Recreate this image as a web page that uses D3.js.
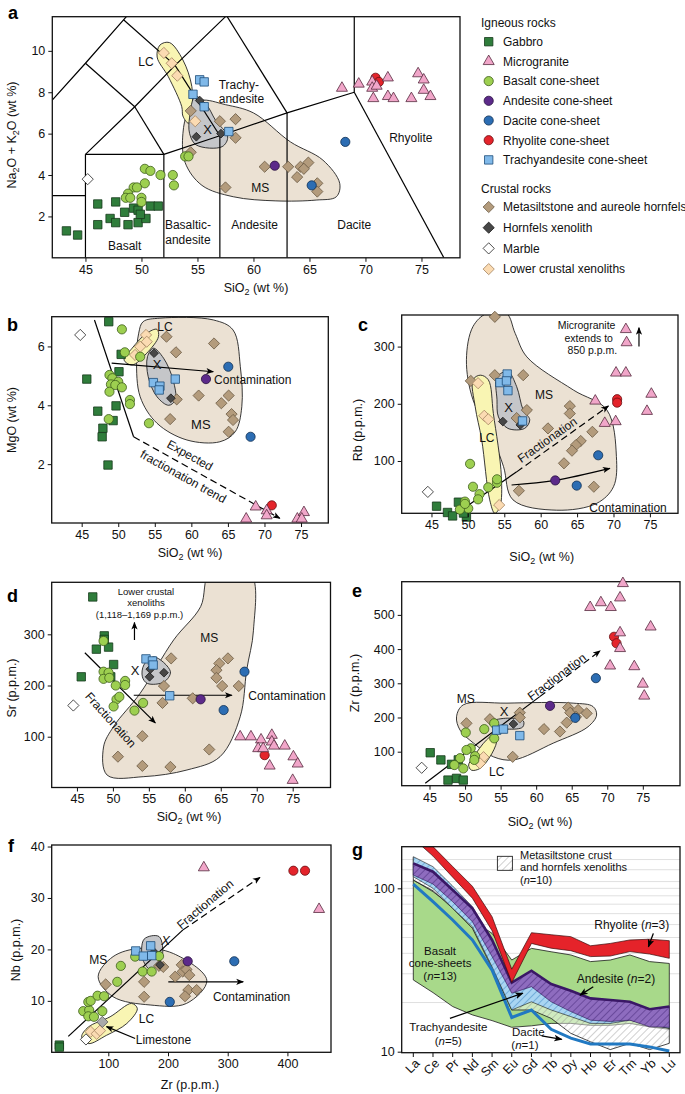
<!DOCTYPE html>
<html><head><meta charset="utf-8">
<script src="https://cdn.jsdelivr.net/npm/d3@7"></script>
<style>body{margin:0;background:#fff}svg{display:block}</style>
</head><body><svg id="c" width="685" height="1094"></svg>
<script>
// ================= DATA =================
// Panel a (TAS): [SiO2, Na2O+K2O]
const gabbroA=[[43.3,1.3],[44.3,1.1],[46.1,2.6],[46.1,1.6],[47.2,1.9],[47.7,2.7],[47.7,1.7],[48.8,1.6],[48.5,2.2],[49.3,2.4],[49.7,2.3],[49.7,1.7],[50.4,1.9],[50.8,2.5],[51.5,2.5],[49.9,2.1]];
const basaltA=[[50.3,4.3],[50.8,4.2],[51.7,4.0],[52.8,4.0],[52.9,3.5],[50.3,3.6],[49.3,3.4],[49.6,3.4],[48.8,3.1],[48.6,2.9],[49.0,2.9],[50.0,2.9],[50.0,2.7],[53.9,4.9],[54.2,4.9]];
const microA=[[67.9,8.2],[69.4,8.4],[70.6,8.5],[70.6,8.2],[70.7,7.7],[72.0,8.7],[72.0,7.8],[72.5,7.7],[74.1,7.7],[74.7,8.9],[75.2,8.6],[75.2,8.1],[75.8,7.8],[71.0,8.3]];
const rhyoliteA=[[70.9,8.7],[71.2,8.5]];
const daciteA=[[68.2,5.6],[65.2,3.5]];
const andesiteA=[[61.9,4.45]];
const trachyA=[[55.2,8.6],[55.6,8.5],[54.6,7.9],[55.6,7.3],[57.8,6.1]];
const hornfelsA=[[55.2,7.6],[54.9,5.85],[57.1,6.0]];
const metaA=[[54.4,7.1],[57.0,6.6],[58.4,6.7],[58.4,5.8],[54.4,5.1],[57.5,3.4],[61.0,4.4],[63.1,4.4],[63.9,3.9],[64.2,4.4],[64.9,4.6],[64.5,4.3],[65.7,3.6],[65.7,3.2]];
const marbleA=[[45.2,3.8]];
const lowerA=[[52.0,9.9],[52.7,9.4],[53.2,8.8],[54.8,6.6]];
const msA=[[55.3,7.6],[57.5,7.4],[60,7.0],[63.3,5.6],[66.2,4.72],[67.7,3.6],[67.4,2.95],[65.6,2.79],[62,2.75],[58.2,2.95],[55.4,3.5],[53.9,4.6],[53.7,6.0],[54.2,7.1]];
const lcA=[[51.65,10.28],[52.5,10.4],[53.7,9.56],[54.5,8.27],[54.5,7.14],[54.2,6.5],[53.7,6.85],[53.6,7.3],[52.4,8.75],[51.4,9.7]];
const xA=[[54.8,7.8],[55.8,7.4],[56.6,6.66],[57.7,5.84],[57.2,5.37],[54.9,5.45],[54.3,6.0],[54.3,6.8]];
const tasLines=[
 [[41,7],[45,9.4],[48.4,11.5],[52.5,14]],[[41,3],[45,3]],[[45,0],[45,5]],[[45,5],[52,5]],[[52,0],[52,5]],
 [[57,0],[57,5.9]],[[63,0],[63,7]],[[52,5],[57,5.9],[63,7],[69,8]],[[69,8],[77,0]],[[69,8],[69,13]],
 [[45,5],[49.4,7.3],[53,9.3],[57.6,11.7],[61,13.5]],[[49.4,7.3],[52,5]],[[53,9.3],[57,5.9]],[[57.6,11.7],[63,7]],
 [[45,9.4],[49.4,7.3]],[[48.4,11.5],[53,9.3]],[[52.5,14],[57.6,11.7]]];

// Panel b: [SiO2, MgO]
const gabbroB=[[48.7,6.84],[45.7,4.89],[50.4,5.73],[50.1,5.14],[47.2,3.8],[49.7,3.98],[47.9,3.22],[47.8,2.93],[49.3,3.48],[48.6,1.97]];
const basaltB=[[50.5,6.58],[50.9,5.8],[53.0,5.65],[48.8,5.03],[49.2,4.92],[50.0,4.8],[49.0,4.71],[49.6,4.69],[50.5,4.61],[48.8,4.46],[51.6,4.18],[51.6,4.04],[48.7,3.53],[54.2,3.39]];
const trachyB=[[54.8,4.77],[55.7,4.65],[55.6,4.52],[57.8,4.89]];
const hornfelsB=[[54.9,5.77],[57.2,4.24]];
const lowerB=[[53.8,6.39],[53.9,6.16],[53.0,5.99],[52.3,5.71]];
const metaB=[[56.6,6.33],[57.9,5.8],[63.1,6.1],[58.0,4.2],[61.0,4.33],[65.1,4.33],[64.1,4.07],[65.5,3.7],[65.7,3.5],[65.1,3.1],[57.1,3.53]];
const marbleB=[[44.8,6.39]];
const andesiteB=[[62.0,4.89]];
const daciteB=[[65.05,5.31],[68.1,2.93]];
const rhyoliteB=[[71.0,0.6]];
const microB=[[68.8,0.55],[67.5,0.14],[70.3,0.42],[70.3,0.25],[74.5,0.14],[75.4,0.36],[75.1,0.14]];
const msB=[[53.4,6.84],[55.7,6.96],[63.0,6.9],[65.7,6.56],[66.7,5.31],[66.9,3.95],[66.0,3.1],[63.9,2.76],[59.4,2.82],[55.3,3.39],[53.0,4.29],[52.5,5.54],[52.8,6.45]];
const lcB=[[50.8,5.54],[51.9,5.94],[53.9,6.45],[55.3,6.58],[55.5,6.33],[53.9,5.77],[51.9,5.37]];
const xB=[[54.8,5.94],[56.2,5.6],[57.5,4.86],[57.8,4.18],[56.9,4.0],[55.3,4.29],[54.1,4.97],[54.0,5.65]];

// Panel c: [SiO2, Rb]
const gabbroC=[[45.7,21],[47.2,10],[47.9,4],[48.7,28],[49.8,2],[49.4,9]];
const basaltC=[[50.3,95],[49.6,29],[50.7,55],[51.6,42],[51.4,33],[52.8,54],[54.0,62],[50.05,17],[48.9,15],[49.6,25],[54.0,68]];
const lowerC=[[51.4,236],[52.25,179],[52.8,173],[54.3,23]];
const trachyC=[[54.4,237],[55.4,252],[55.3,240],[55.5,223],[57.5,170]];
const hornfelsC=[[54.8,169],[57.2,163]];
const metaC=[[50.4,240],[53.7,352],[53.7,250],[57.6,250],[56.7,175],[58.1,189],[61.0,157],[64.0,196],[64.0,183],[65.5,135],[64.85,128],[64.3,118],[63.2,96],[67.1,151],[67.3,55],[57.0,48]];
const marbleC=[[44.5,46]];
const andesiteC=[[62.0,66]];
const daciteC=[[67.9,110],[64.95,57]];
const rhyoliteC=[[70.5,208],[70.5,202]];
const microC=[[71.7,330],[71.8,307],[70.35,254],[71.7,254],[67.5,205],[68.8,166],[70.3,169],[75.2,217],[74.6,187]];
const msC=[[52.6,358],[55.3,358],[56.5,323],[58.1,282],[64.5,224],[69.1,189],[70.4,108],[70.0,55],[67.7,26],[62.2,14],[56.2,32],[54.9,90],[53.5,137],[50.7,207],[49.8,277],[50.7,335]];
const lcC=[[50.7,242],[51.7,250],[52.8,242],[53.5,183],[54.6,73],[54.4,20],[53.7,8.5],[53.0,32],[51.9,137],[51.0,195]];
const xC=[[54.0,247],[55.5,256],[56.7,230],[57.6,189],[58.5,172],[57.8,157],[55.5,157],[54.2,177],[54.0,207]];

// Panel d: [SiO2, Sr]
const gabbroD=[[47.2,373],[48.8,297],[47.7,271],[49.4,275],[50.1,241],[45.6,217],[49.7,217],[48.8,290]];
const basaltD=[[48.7,287],[48.7,227],[49.4,225],[48.7,213],[49.5,215],[50.4,200],[51.7,209],[51.7,201],[50.5,173],[50.9,178],[50.1,159],[53.0,151],[54.2,166]];
const trachyD=[[54.6,252],[55.5,248],[55.6,240],[57.9,180]];
const hornfelsD=[[55.1,217],[57.1,225],[55.2,232]];
const metaD=[[58.1,253],[57.1,199],[56.9,166],[61.1,175],[66.0,253],[64.8,243],[64.4,230],[64.4,215],[65.2,199],[67.5,199],[54.1,101],[50.7,61],[54.1,43],[58.0,41],[63.4,75]];
const marbleD=[[44.5,161]];
const andesiteD=[[62.2,173]];
const daciteD=[[68.3,227],[65.4,152]];
const rhyoliteD=[[71.1,64]];
const microD=[[67.7,100],[69.2,100],[70.6,94],[72.1,103],[72.1,90],[72.4,82],[70.2,77],[70.9,77],[73.9,82],[75.1,61],[75.7,47],[71.8,43],[75.0,15]];
const msD=[[63.5,420],[69.1,420],[69.55,308],[68.6,230],[67.7,139],[64.9,61],[60.3,35],[54.3,22],[49.2,25],[48.7,80],[50.1,120],[53.8,185],[58.45,289],[62.2,354]];
const xD=[[54.3,240],[55.7,256],[58.0,227],[57.1,207],[54.8,204],[54.1,217]];

// Panel e: [SiO2, Zr]
const gabbroE=[[45.1,97],[46.6,76],[48.1,63],[48.8,22],[47.6,17],[49.75,17],[49.05,76]];
const basaltE=[[50.1,156],[50.8,110],[50.2,105],[49.3,81],[48.5,61],[49.75,51],[51.4,87],[51.3,76],[52.7,166],[54.1,183],[54.1,139]];
const trachyE=[[54.45,163],[55.4,166],[57.7,147]];
const hornfelsE=[[56.8,181]];
const metaE=[[50.2,183],[53.5,195],[57.7,214],[57.7,200],[56.7,85],[61.1,166],[63.35,159],[64.3,185],[64.5,229],[64.8,214],[65.9,222],[67.1,212],[65.6,202]];
const lowerE=[[51.6,76],[52.6,84],[52.1,66]];
const marbleE=[[43.9,53]];
const andesiteE=[[61.95,234]];
const daciteE=[[65.5,199],[68.4,315]];
const rhyoliteE=[[70.95,436],[71.3,417]];
const microE=[[72.2,592],[67.6,522],[69.1,536],[70.5,522],[71.8,550],[76.1,465],[71.8,448],[71.8,402],[70.4,351],[73.8,349],[75.0,298],[75.2,263]];
const msE=[[48.8,202],[49.75,237],[55.9,242],[65.2,242],[68.0,232],[68.5,207],[67.3,173],[62.4,125],[56.8,76],[54.0,85],[51.2,125],[49.3,163]];
const lcE=[[50.5,61],[51.2,85],[53.0,134],[54.35,154],[54.45,129],[53.5,85],[52.1,51],[50.9,46]];
const xE=[[53.8,188],[56,198],[58.2,190],[58.1,172],[56,166],[53.9,175]];

// Panel f: [Zr, Nb]
const gabbroF=[[18,1.4],[18,1.0]];
const basaltF=[[58,8],[68,8.2],[66.5,9.8],[70.5,10],[82,11],[93,10.9],[90,8],[66.5,7],[76,6.9],[115,13.7],[121,16.8],[145,18.6],[157.5,15.7],[172.7,15.7],[185,18.7]];
const trachyF=[[146,19.7],[158.6,18.7],[172.7,18.8],[171,20.7]];
const hornfelsF=[[176.5,19.5],[186.6,17]];
const metaF=[[95.6,13.2],[160,13.7],[160,10.8],[185,16.8],[192,16.6],[212,14.7],[223,17],[224.6,15.7],[231,16.1],[235.7,15],[234,12.1],[248,12.1],[228.5,10.9]];
const marbleF=[[62.6,2.5]];
const limestoneF=[[90,5.9]];
const lowerF=[[70.5,4],[80.5,3.6],[86,4.2]];
const andesiteF=[[233,17.7]];
const daciteF=[[311,17.7],[203,9.8]];
const rhyoliteF=[[410,35.3],[429.5,35.3]];
const microF=[[260,35.9],[453,27.8]];
const msF=[[83,14.7],[108,18.6],[153,20.2],[209,19.2],[265,14],[231,9.5],[170,9.2],[108,10.8]];
const xF=[[160,22],[185,22.5],[190,18.5],[172,16],[158,18]];
const lcF=[[55.4,3],[66.5,4.9],[103,6.9],[139,9.5],[148.6,8.5],[131,5.6],[97,3.3],[66.5,1.7]];

// Panel g: REE patterns (chondrite-normalised)
const ree=["La","Ce","Pr","Nd","Sm","Eu","Gd","Tb","Dy","Ho","Er","Tm","Yb","Lu"];
const rhyoliteTop=[238,180,136,103,67,32,53.5,52,50.6,44.5,46,48.3,48.8,47.8];
const rhyoliteBot=[202,157.5,117,87,55,26.5,46,43,41.5,38.2,38.5,41,39.6,37.3];
const basaltTop=[112.4,95.4,77.2,64.0,53.0,36.4,42.9,40.9,39.1,35.6,36.4,39.1,35.6,34.7];
const basaltBot=[27.5,23.0,18.9,16.8,15.5,14.1,14.4,14.9,14.9,14.5,14.5,14.9,14.2,13.7];
const metaTop=[154.7,130.6,98.6,73.6,46.0,22.8,25.6,21.7,18.0,16.0,15.8,16.2,14.9,13.9];
const metaBot=[112.4,96.7,75.4,56.9,32.4,18.0,18.0,16.0,12.95,11.5,10.3,11.25,10.3,11.25];
const trachyTop=[156.2,135.7,103.3,77.2,48.3,25.6,28.8,23.9,20.7,18.0,18.0,18.0,16.4,15.6];
const trachyBot=[117.8,100,75.4,58.2,33.1,18.0,20.2,18.0,16.4,14.9,14.9,15.6,14.55,13.9];
const andesiteTop=[142.2,126.4,97.6,75.4,48.3,26.5,31.3,25.95,23.6,21.2,20.7,20.2,18.2,18.9];
const andesiteBot=[120.6,106.2,82.8,62.5,38.2,22.8,25.0,20.2,17.6,15.6,15.3,15.6,14.2,14.1];
const daciteREE=[106.2,82.8,64.0,48.3,31.6,16.2,18.0,13.7,12.1,11.15,11.15,11.15,10.7,10.1];

// tick labels
const sioTicks=[45,50,55,60,65,70,75];

// ================= DRAWING =================
const FONT='"Liberation Sans", Arial, Helvetica, sans-serif';
const svg=d3.select('#c').attr('font-family',FONT);
const defs=svg.append('defs');
defs.append('marker').attr('id','arr').attr('viewBox','0 0 10 10').attr('refX',9).attr('refY',5)
 .attr('markerWidth',6.5).attr('markerHeight',6.5).attr('orient','auto').attr('markerUnits','strokeWidth')
 .append('path').attr('d','M0,1L10,5L0,9L2.5,5Z').attr('fill','#000');
function pattern(id,bg,lc,lw){
  const p=defs.append('pattern').attr('id',id).attr('width',5).attr('height',5).attr('patternUnits','userSpaceOnUse').attr('patternTransform','rotate(45)');
  if(bg) p.append('rect').attr('width',5).attr('height',5).attr('fill',bg);
  p.append('line').attr('x1',0).attr('y1',0).attr('x2',0).attr('y2',5).attr('stroke',lc).attr('stroke-width',lw);
}
pattern('hGray',null,'#8a8a8a',0.8);
pattern('hBlue','#a9d5f2','#3d86c2',1.0);
pattern('hPurp','#8e6cbf','#563789',1.3);
pattern('hLeg','#ffffff','#8a8a8a',0.8);

const TYPES={
 gabbro:{shape:'square',fill:'#2f7d3b',stroke:'#163a1c'},
 micro:{shape:'triangle',fill:'#f1a6c9',stroke:'#55293d'},
 basalt:{shape:'circle',fill:'#9dcf50',stroke:'#3e5d1c'},
 andesite:{shape:'circle',fill:'#5c2a8a',stroke:'#28103f'},
 dacite:{shape:'circle',fill:'#2c6db3',stroke:'#0f2e52'},
 rhyolite:{shape:'circle',fill:'#e4242b',stroke:'#6a0e11'},
 trachy:{shape:'square',fill:'#80b9e9',stroke:'#1d4d78'},
 meta:{shape:'diamond',fill:'#b39b7c',stroke:'#6a5942'},
 hornfels:{shape:'diamond',fill:'#474747',stroke:'#1c1c1c',scale:0.78},
 marble:{shape:'diamond',fill:'#ffffff',stroke:'#222'},
 lower:{shape:'diamond',fill:'#fbdbb2',stroke:'#a3835f'},
 limestone:{shape:'diamond',fill:'#aaaaaa',stroke:'#555'}
};
function symPath(shape,k){const s=k||1;
 if(shape==='square'){const h=4.2*s;return `M${-h},${-h}H${h}V${h}H${-h}Z`;}
 if(shape==='diamond'){const d=5.6*s;return `M0,${-d}L${d},0L0,${d}L${-d},0Z`;}
 if(shape==='triangle'){const t=11*s,hh=t*Math.sqrt(3)/2;return `M0,${-hh*2/3}L${t/2},${hh/3}L${-t/2},${hh/3}Z`;}
 const r=4.6*s;return `M${r},0A${r},${r} 0 1,1 ${-r},0A${r},${r} 0 1,1 ${r},0Z`;
}
function makePanel(o){
  const g=svg.append('g');
  const x=d3.scaleLinear().domain(o.xd).range([o.L,o.R]);
  const y=(o.yLog?d3.scaleLog():d3.scaleLinear()).domain(o.yd).range([o.B,o.T]);
  const cid='clip-'+o.name;
  defs.append('clipPath').attr('id',cid).append('rect').attr('x',o.L).attr('y',o.T).attr('width',o.R-o.L).attr('height',o.B-o.T);
  const fields=g.append('g').attr('clip-path',`url(#${cid})`);
  const lines=g.append('g').attr('clip-path',`url(#${cid})`);
  g.append('rect').attr('x',o.L).attr('y',o.T).attr('width',o.R-o.L).attr('height',o.B-o.T).attr('fill','none').attr('stroke','#111').attr('stroke-width',1.3);
  const pts=g.append('g');
  const text=g.append('g');
  if(o.xt){const xa=g.append('g').attr('transform',`translate(0,${o.B})`).call(d3.axisBottom(x).tickValues(o.xt).tickSize(4).tickPadding(3).tickFormat(d=>d));xa.select('.domain').remove();}
  if(o.yt){const ya=g.append('g').attr('transform',`translate(${o.L},0)`).call(d3.axisLeft(y).tickValues(o.yt).tickSize(4).tickPadding(3).tickFormat(d=>d));ya.select('.domain').remove();}
  g.selectAll('.tick text').attr('font-size',12.5).attr('font-family',FONT).attr('fill','#111');
  g.selectAll('.tick line').attr('stroke','#111').attr('stroke-width',1);
  text.append('text').attr('x',o.lx).attr('y',o.ly).attr('font-size',18).attr('font-weight','bold').attr('fill','#000').text(o.name);
  return {g,x,y,fields,lines,pts,text,o};
}
function field(P,d,fill){
  P.fields.append('path').datum(d).attr('d',d3.line().x(v=>P.x(v[0])).y(v=>P.y(v[1])).curve(d3.curveCatmullRomClosed.alpha(0.5)))
   .attr('fill',fill).attr('stroke','#222').attr('stroke-width',0.9);
}
function pline(P,d,opt={}){
  const p=P.lines.append('path').datum(d).attr('d',d3.line().x(v=>P.x(v[0])).y(v=>P.y(v[1])).curve(opt.curve?d3.curveNatural:d3.curveLinear))
   .attr('fill','none').attr('stroke','#000').attr('stroke-width',opt.w||1.2);
  if(opt.dash) p.attr('stroke-dasharray',opt.dash);
  if(opt.arrow) p.attr('marker-end','url(#arr)');
}
function points(P,d,type){
  const t=TYPES[type];
  P.pts.append('g').selectAll('path').data(d).join('path').attr('d',symPath(t.shape,t.scale))
   .attr('transform',v=>`translate(${P.x(v[0])},${P.y(v[1])})`).attr('fill',t.fill).attr('stroke',t.stroke).attr('stroke-width',0.8);
}
function label(layer,px,py,s,opt={}){
  const t=layer.append('text').attr('x',px).attr('y',py).attr('dy',opt.dy!=null?opt.dy:'0.35em')
   .attr('font-size',opt.size||12).attr('text-anchor',opt.anchor||'middle').attr('fill','#111');
  if(opt.rot) t.attr('transform',`rotate(${opt.rot},${px},${py})`);
  if(opt.italic) t.attr('font-style','italic');
  t.text(s);return t;
}
function nLabel(layer,px,py,pre,post,opt={}){
  const t=layer.append('text').attr('x',px).attr('y',py).attr('dy','0.35em').attr('font-size',opt.size||12)
   .attr('text-anchor',opt.anchor||'middle').attr('fill','#111');
  t.append('tspan').text(pre);t.append('tspan').attr('font-style','italic').text('n');t.append('tspan').text(post);
  return t;
}
function subTitle(px,py,parts,rot){
  const t=svg.append('text').attr('x',px).attr('y',py).attr('font-size',12.5).attr('text-anchor','middle').attr('fill','#111');
  if(rot) t.attr('transform',`rotate(${rot},${px},${py})`);
  parts.forEach(p=>{ if(p[1]) t.append('tspan').attr('font-size',9).attr('dy',3).text(p[0]); else t.append('tspan').attr('dy',p[2]||0).text(p[0]); });
}
function allPoints(P,s){
  const order=['meta','lower','hornfels','marble','limestone','gabbro','basalt','trachy','andesite','dacite','rhyolite','micro'];
  order.forEach(k=>{ if(s[k]) points(P,s[k],k); });
}
const FMS='#ebe1d3', FLC='#f9f5b3', FX='#c5c6c9';

// ---------- Panel a ----------
const A=makePanel({name:'a',L:52.3,R:460,T:16.7,B:257.8,xd:[42.04,78.44],yd:[0,11.65],xt:sioTicks,yt:[2,4,6,8,10],lx:8,ly:19});
field(A,msA,FMS);field(A,lcA,FLC);field(A,xA,FX);
tasLines.forEach(l=>pline(A,l,{w:1.2}));
allPoints(A,{meta:metaA,lower:lowerA,hornfels:hornfelsA,marble:marbleA,gabbro:gabbroA,basalt:basaltA,trachy:trachyA,andesite:andesiteA,dacite:daciteA,rhyolite:rhyoliteA,micro:microA});
label(A.text,A.x(50.4),A.y(9.46),'LC');
label(A.text,A.x(56.9),A.y(8.38),'Trachy-',{anchor:'start'});
label(A.text,A.x(56.9),A.y(7.7),'andesite',{anchor:'start'});
label(A.text,A.x(55.9),A.y(6.2),'X',{size:13});
label(A.text,A.x(60.6),A.y(3.4),'MS');
label(A.text,A.x(48.5),A.y(0.6),'Basalt');
label(A.text,A.x(54.15),A.y(1.6),'Basaltic-');
label(A.text,A.x(54.15),A.y(0.88),'andesite');
label(A.text,A.x(60.1),A.y(1.6),'Andesite');
label(A.text,A.x(69.0),A.y(1.6),'Dacite');
label(A.text,A.x(74.05),A.y(5.8),'Rhyolite');
subTitle(256,292,[['SiO'],['2',1],[' (wt %)',0,-3]]);
subTitle(16,135,[['Na'],['2',1],['O + K',0,-3],['2',1],['O (wt %)',0,-3]],-90);

// ---------- Legend ----------
const legIgneous=[['Gabbro','gabbro'],['Microgranite','micro'],['Basalt cone-sheet','basalt'],['Andesite cone-sheet','andesite'],['Dacite cone-sheet','dacite'],['Rhyolite cone-sheet','rhyolite'],['Trachyandesite cone-sheet','trachy']];
const legCrustal=[['Metasiltstone and aureole hornfels','meta'],['Hornfels xenolith','hornfels'],['Marble','marble'],['Lower crustal xenoliths','lower']];
const leg=svg.append('g').attr('font-size',12).attr('fill','#111');
leg.append('text').attr('x',481).attr('y',27).text('Igneous rocks');
leg.append('text').attr('x',481).attr('y',193).text('Crustal rocks');
function legRow(item,yc){const t=TYPES[item[1]];
  leg.append('path').attr('d',symPath(t.shape,1)).attr('transform',`translate(488.7,${yc})`).attr('fill',t.fill).attr('stroke',t.stroke).attr('stroke-width',0.8);
  leg.append('text').attr('x',503).attr('y',yc+4.3).text(item[0]);}
legIgneous.forEach((it,i)=>legRow(it,41.7+i*19.7));
legCrustal.forEach((it,i)=>legRow(it,207+i*20.7));

// ---------- Panel b ----------
const B=makePanel({name:'b',L:51.7,R:328.3,T:316.7,B:523,xd:[40.9,78.73],yd:[0,7.01],xt:sioTicks,yt:[2,4,6],lx:7,ly:331});
field(B,msB,FMS);field(B,lcB,FLC);field(B,xB,FX);
pline(B,[[46.75,6.9],[52.1,2.93]]);
pline(B,[[52.1,2.93],[72.1,0.16]],{dash:'7,4',arrow:true});
pline(B,[[49.1,5.43],[63.0,5.14]],{arrow:true});
allPoints(B,{meta:metaB,lower:lowerB,hornfels:hornfelsB,marble:marbleB,gabbro:gabbroB,basalt:basaltB,trachy:trachyB,andesite:andesiteB,dacite:daciteB,rhyolite:rhyoliteB,micro:microB});
label(B.text,B.x(56.4),B.y(6.67),'LC');
label(B.text,B.x(55.3),B.y(5.39),'X',{size:13});
label(B.text,B.x(61.3),B.y(3.36),'MS',{size:13});
label(B.text,B.x(68.4),B.y(4.86),'Contamination');
label(B.text,B.x(59.8),B.y(2.3),'Expected',{rot:29});
label(B.text,B.x(58.9),B.y(1.58),'fractionation trend',{rot:29});
subTitle(190,557,[['SiO'],['2',1],[' (wt %)',0,-3]]);
subTitle(16,420,[['MgO (wt %)']],-90);

// ---------- Panel c ----------
const C=makePanel({name:'c',L:401.7,R:678,T:315,B:513.3,xd:[40.91,78.86],yd:[8.57,355.2],xt:sioTicks,yt:[100,200,300],lx:358,ly:331});
field(C,msC,FMS);field(C,lcC,FLC);field(C,xC,FX);
pline(C,[[49.4,17],[56.7,81]]);
pline(C,[[56.7,81],[69.3,196]],{dash:'7,4',arrow:true});
pline(C,[[56.0,58],[62,66],[69.5,87]],{arrow:true,curve:true});
pline(C,[[73.5,300],[73.5,333]],{arrow:true});
allPoints(C,{meta:metaC,lower:lowerC,hornfels:hornfelsC,marble:marbleC,gabbro:gabbroC,basalt:basaltC,trachy:trachyC,andesite:andesiteC,dacite:daciteC,rhyolite:rhyoliteC,micro:microC});
label(C.text,C.x(66.3),C.y(337),'Microgranite',{size:10.5});
label(C.text,C.x(66.6),C.y(315),'extends to',{size:10.5});
label(C.text,C.x(67.1),C.y(293.5),'850 p.p.m.',{size:10.5});
label(C.text,C.x(60.45),C.y(215.7),'MS');
label(C.text,C.x(55.6),C.y(194),'X',{size:13});
label(C.text,C.x(52.6),C.y(139.7),'LC');
label(C.text,C.x(72.0),C.y(19),'Contamination');
label(C.text,C.x(60.9),C.y(137),'Fractionation',{rot:-35});
subTitle(541.7,561,[['SiO'],['2',1],[' (wt %)',0,-3]]);
subTitle(362,430,[['Rb (p.p.m.)']],-90);

// ---------- Panel d ----------
const D=makePanel({name:'d',L:51.7,R:330.5,T:582.3,B:787.5,xd:[41.49,80.26],yd:[0.8,401.6],xt:sioTicks,yt:[100,200,300],lx:7,ly:602});
field(D,msD,FMS);field(D,xD,FX);
pline(D,[[46.1,264],[55.9,127]],{arrow:true});
pline(D,[[52.9,181],[66.55,181]],{arrow:true});
pline(D,[[53.0,289],[53.0,323]],{arrow:true});
allPoints(D,{meta:metaD,hornfels:hornfelsD,marble:marbleD,gabbro:gabbroD,basalt:basaltD,trachy:trachyD,andesite:andesiteD,dacite:daciteD,rhyolite:rhyoliteD,micro:microD});
label(D.text,D.x(54.6),D.y(384),'Lower crustal',{size:9.5});
label(D.text,D.x(54.6),D.y(361),'xenoliths',{size:9.5});
label(D.text,D.x(53.7),D.y(338),'(1,118\u20131,169 p.p.m.)',{size:9.5});
label(D.text,D.x(63.4),D.y(294),'MS');
label(D.text,D.x(53.1),D.y(230),'X',{size:13});
label(D.text,D.x(74.2),D.y(180),'Contamination');
label(D.text,D.x(49.7),D.y(133),'Fractionation',{rot:48});
subTitle(189,821,[['SiO'],['2',1],[' (wt %)',0,-3]]);
subTitle(16,688,[['Sr (p.p.m.)']],-90);

// ---------- Panel e ----------
const E=makePanel({name:'e',L:401.7,R:680,T:581.7,B:785.7,xd:[41.09,80.23],yd:[0.6,597],xt:sioTicks,yt:[100,200,300,400,500],lx:352,ly:597});
field(E,msE,FMS);field(E,lcE,FLC);field(E,xE,FX);
pline(E,[[44.4,8],[60.5,261]]);
pline(E,[[60.5,261],[69.0,395]],{dash:'7,4',arrow:true});
allPoints(E,{meta:metaE,lower:lowerE,hornfels:hornfelsE,marble:marbleE,gabbro:gabbroE,basalt:basaltE,trachy:trachyE,andesite:andesiteE,dacite:daciteE,rhyolite:rhyoliteE,micro:microE});
label(E.text,E.x(50.1),E.y(256),'MS');
label(E.text,E.x(55.5),E.y(217),'X',{size:13});
label(E.text,E.x(54.45),E.y(41.5),'LC');
label(E.text,E.x(62.9),E.y(319),'Fractionation',{rot:-37});
subTitle(540,826,[['SiO'],['2',1],[' (wt %)',0,-3]]);
subTitle(359,683,[['Zr (p.p.m.)']],-90);

// ---------- Panel f ----------
const F=makePanel({name:'f',L:51.7,R:331,T:845,B:1052.3,xd:[5.2,473],yd:[0,40.3],xt:[100,200,300,400],yt:[10,20,30,40],lx:8,ly:852});
field(F,msF,FMS);field(F,lcF,FLC);field(F,xF,FX);
pline(F,[[33,3.1],[225,23.8]]);
pline(F,[[225,23.8],[354,34]],{dash:'7,4',arrow:true});
pline(F,[[200.5,13.7],[326,13.7]],{arrow:true});
pline(F,[[145,2.67],[97,5.0]],{arrow:true});
allPoints(F,{meta:metaF,lower:lowerF,hornfels:hornfelsF,marble:marbleF,limestone:limestoneF,gabbro:gabbroF,basalt:basaltF,trachy:trachyF,andesite:andesiteF,dacite:daciteF,rhyolite:rhyoliteF,micro:microF});
label(F.text,F.x(83),F.y(17.9),'MS');
label(F.text,F.x(196),F.y(21.8),'X',{size:13,italic:true});
label(F.text,F.x(164),F.y(6.6),'LC');
label(F.text,F.x(340),F.y(10.8),'Contamination');
label(F.text,F.x(146),F.y(2.5),'Limestone',{anchor:'start'});
label(F.text,F.x(262),F.y(28.8),'Fractionation',{rot:-40});
subTitle(190,1089,[['Zr (p.p.m.)']]);
subTitle(20,950,[['Nb (p.p.m.)']],-90);

// ---------- Panel g ----------
const G=makePanel({name:'g',L:401.7,R:680,T:846.7,B:1052.7,xd:[0,1],yd:[9.86,179.8],yLog:true,yt:[10,100],lx:352,ly:856});
const gx=d3.scalePoint().domain(ree).range([413.3,669.3]);
const gi=d3.scaleLinear().domain([0,ree.length-1]).range([413.3,669.3]);
const gy=G.y;
[20,30,40,50,60,70,80,90,100,110,130,150].forEach(v=>{
  G.fields.append('line').attr('x1',401.7).attr('x2',680).attr('y1',gy(v)).attr('y2',gy(v)).attr('stroke','#dcdcdc').attr('stroke-width',0.9);
});
function band(top,bot,fill,stroke,sw){
  const ar=d3.area().x((d,i)=>gx(ree[i])).y0((d,i)=>gy(bot[i])).y1((d,i)=>gy(top[i]));
  G.fields.append('path').datum(top).attr('d',ar).attr('fill',fill).attr('stroke',stroke||'none').attr('stroke-width',sw||0.8);
}
function gline(vals,color,w){
  G.fields.append('path').datum(vals).attr('d',d3.line().x((d,i)=>gx(ree[i])).y(d=>gy(d))).attr('fill','none').attr('stroke',color).attr('stroke-width',w);
}
band(basaltTop,basaltBot,'#a8d98a','#1a1a1a',0.8);
band(metaTop,metaBot,'rgba(255,255,255,0.45)','none');
band(metaTop,metaBot,'url(#hGray)','#1a1a1a',0.8);
band(trachyTop,trachyBot,'url(#hBlue)','#1a1a1a',0.6);
band(andesiteTop,andesiteBot,'url(#hPurp)','#2a1450',0.6);
gline(andesiteTop,'#3a1766',2.6);
band(rhyoliteTop,rhyoliteBot,'#e5232a','#3a0a0a',0.7);
gline(daciteREE,'#2179c2',3);
// x axis
const gax=G.g.append('g');
ree.forEach(r=>{
  gax.append('line').attr('x1',gx(r)).attr('x2',gx(r)).attr('y1',1052.7).attr('y2',1057).attr('stroke','#111');
  gax.append('text').attr('x',gx(r)+4).attr('y',1061).attr('dy','0.35em').attr('text-anchor','end').attr('font-size',12.5).attr('fill','#111')
    .attr('transform',`rotate(-45,${gx(r)+4},1061)`).text(r);
});
// legend box & annotations
G.text.append('rect').attr('x',gi(4.27)).attr('y',gy(157)).attr('width',15).attr('height',14).attr('fill','url(#hLeg)').attr('stroke','#222').attr('stroke-width',0.9);
label(G.text,gi(5.42),gy(159),'Metasiltstone crust',{anchor:'start',size:11});
label(G.text,gi(5.42),gy(134),'and hornfels xenoliths',{anchor:'start',size:11});
nLabel(G.text,gi(5.42),gy(113),'(','=10)',{anchor:'start',size:11});
nLabel(G.text,gi(13.0),gy(59.6),'Rhyolite (','=3)',{anchor:'end'});
nLabel(G.text,gi(8.3),gy(27.9),'Andesite (','=2)',{anchor:'start'});
label(G.text,gi(1.36),gy(41.5),'Basalt',{size:11.5});
label(G.text,gi(1.36),gy(34.7),'cone-sheets',{size:11.5});
nLabel(G.text,gi(1.36),gy(29.0),'(','=13)',{size:11.5});
label(G.text,gi(1.78),gy(14.1),'Trachyandesite',{size:11.5});
nLabel(G.text,gi(1.78),gy(11.7),'(','=5)',{size:11.5});
label(G.text,gi(5.84),gy(13.2),'Dacite',{size:11.5});
nLabel(G.text,gi(5.67),gy(10.95),'(','=1)',{size:11.5});
function garrow(i1,v1,i2,v2){
  G.text.append('line').attr('x1',gi(i1)).attr('y1',gy(v1)).attr('x2',gi(i2)).attr('y2',gy(v2)).attr('stroke','#000').attr('stroke-width',1.3).attr('marker-end','url(#arr)');
}
garrow(12.19,53,11.94,43.9);
garrow(9.14,25.0,8.47,22.2);
garrow(1.86,16.0,5.56,22.8);
garrow(6.52,12.5,7.54,11.9);
</script></body></html>
